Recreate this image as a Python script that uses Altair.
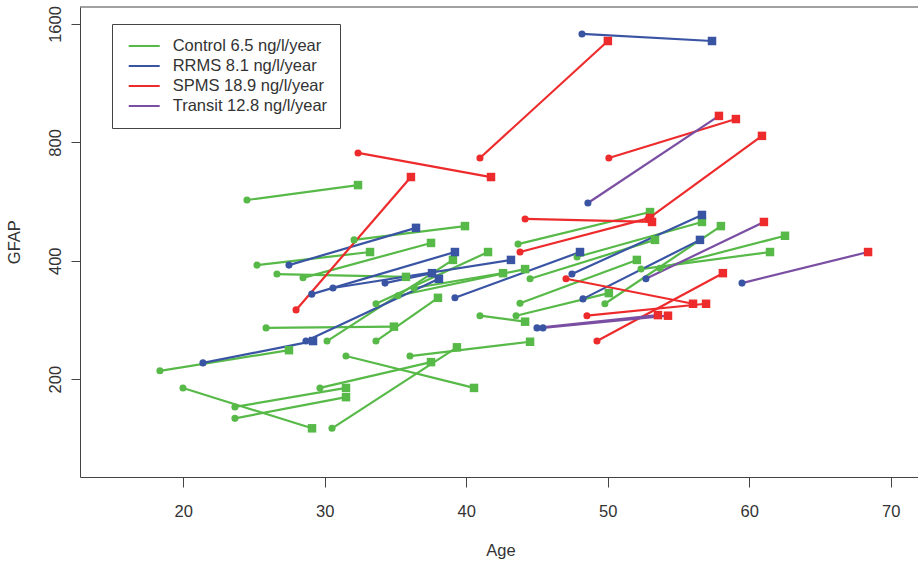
import altair as alt
import pandas as pd

# ---- data ----
groups = (["Control"] * 28) + (["RRMS"] * 10) + (["SPMS"] * 10) + (["Transit"] * 5)

age_start = [
    24.50, 25.21, 26.62, 28.46, 32.07, 25.85, 18.35, 19.98, 23.65, 23.65,
    29.66, 30.51, 36.02, 31.50, 30.16, 33.62, 33.62, 36.31, 40.97, 43.52,
    43.66, 44.51, 47.83, 49.80, 52.35, 35.17, 43.80, 53.69,
    48.18, 27.47, 29.08, 30.58, 34.26, 28.67, 21.39, 39.20, 47.47, 48.25,
    27.97, 32.35, 40.97, 50.08, 52.84, 44.16, 43.80, 47.05, 48.53, 49.24,
    48.60, 52.70, 59.49, 45.00, 45.42,
]
gfap_start = [
    571, 390, 370, 362, 452, 270, 210, 190, 170, 159,
    190, 150, 229, 229, 250, 311, 250, 341, 290, 290,
    441, 360, 409, 311, 381, 326, 312, 383,
    1509, 390, 329, 341, 351, 250, 220, 322, 370, 320,
    300, 752, 730, 730, 511, 511, 421, 360, 290, 250,
    561, 360, 351, 270, 270,
]
age_end = [
    32.35, 33.20, 35.74, 37.51, 39.91, 34.89, 27.47, 29.10, 31.50, 31.50,
    37.51, 39.34, 44.51, 40.55, 39.06, 41.54, 38.00, 42.60, 44.16, 50.08,
    52.99, 53.34, 56.66, 58.00, 61.47, 44.16, 52.06, 62.53,
    57.37, 36.45, 39.20, 43.16, 37.58, 38.07, 29.17, 48.04, 56.66, 56.52,
    36.09, 41.75, 50.01, 59.06, 60.90, 53.13, 52.99, 56.03, 56.95, 58.14,
    57.86, 61.04, 68.40, 53.55, 54.26,
]
gfap_end = [
    623, 421, 364, 444, 490, 272, 237, 150, 190, 180,
    221, 241, 249, 190, 402, 421, 322, 372, 280, 331,
    532, 452, 502, 490, 421, 381, 402, 463,
    1448, 485, 421, 402, 372, 360, 250, 421, 523, 452,
    653, 653, 1448, 917, 831, 502, 514, 311, 311, 372,
    934, 502, 421, 291, 290,
]

group_names = ["Control", "RRMS", "SPMS", "Transit"]
slopes = ["6.5", "8.1", "18.9", "12.8"]
colors = ["#57B947", "#3A54A4", "#EE2B2C", "#7A4FA3"]
legend_labels = [f"{g} {s} ng/l/year" for g, s in zip(group_names, slopes)]
label_of = dict(zip(group_names, legend_labels))

# Transit patients: first visit shown as RRMS, second visit as SPMS
start_group = {"Control": "Control", "RRMS": "RRMS", "SPMS": "SPMS", "Transit": "RRMS"}
end_group = {"Control": "Control", "RRMS": "RRMS", "SPMS": "SPMS", "Transit": "SPMS"}

rows = []
for i, g in enumerate(groups):
    rows.append(dict(id=i, grp=label_of[g], age=age_start[i], gfap=gfap_start[i],
                     stage=0, pgrp=label_of[start_group[g]]))
    rows.append(dict(id=i, grp=label_of[g], age=age_end[i], gfap=gfap_end[i],
                     stage=1, pgrp=label_of[end_group[g]]))
df = pd.DataFrame(rows)

W, H = 838, 470
FONT = "Liberation Sans"
TXT = "#333333"
AX = "#444444"

xscale = alt.Scale(domain=[12.7, 71.93], nice=False, zero=False)
yscale = alt.Scale(type="log", domain=[112.8, 1767], nice=False, zero=False)
cscale = alt.Scale(domain=legend_labels, range=colors)

xaxis = alt.Axis(
    values=[20, 30, 40, 50, 60, 70], grid=False, tickSize=10, tickColor=AX,
    domainColor=AX, labelFont=FONT, labelFontSize=16.5, labelColor=TXT,
    labelBaseline="alphabetic", labelPadding=29, title="Age",
    titleFont=FONT, titleFontSize=16.5, titleFontWeight="normal", titleColor=TXT,
    titleBaseline="alphabetic", titleAlign="center", titleX=420.5, titleY=78.5,
)
yaxis = alt.Axis(
    values=[200, 400, 800, 1600], grid=False, tickSize=9, tickColor=AX,
    domainColor=AX, labelFont=FONT, labelFontSize=16.5, labelColor=TXT,
    labelAngle=270, labelAlign="center", labelBaseline="alphabetic",
    labelPadding=10.5, format="d", title="GFAP",
    titleFont=FONT, titleFontSize=16.5, titleFontWeight="normal", titleColor=TXT,
    titleAngle=270, titleBaseline="alphabetic", titleAlign="center",
    titleX=-61, titleY=234.7,
)

legend = alt.Legend(
    title=None, orient="none", legendX=32, legendY=17,
    symbolType="stroke", symbolSize=961, symbolStrokeWidth=2,
    labelFont=FONT, labelFontSize=16.5, labelColor=TXT, labelLimit=0,
    padding=12, strokeColor=AX, fillColor="white",
    clipHeight=20, rowPadding=0, labelOffset=12, symbolOffset=3.7,
)

base = alt.Chart(df)

lines = base.mark_line(strokeWidth=2.2).encode(
    x=alt.X("age:Q", scale=xscale, axis=xaxis),
    y=alt.Y("gfap:Q", scale=yscale, axis=yaxis),
    color=alt.Color("grp:N", scale=cscale, legend=legend),
    detail="id:N",
    order="stage:Q",
)

circles = base.transform_filter(alt.datum.stage == 0).mark_point(
    shape="circle", filled=True, size=50, opacity=1
).encode(
    x=alt.X("age:Q", scale=xscale),
    y=alt.Y("gfap:Q", scale=yscale),
    color=alt.Color("pgrp:N", scale=cscale, legend=None),
)

squares = base.transform_filter(alt.datum.stage == 1).mark_point(
    shape="square", filled=True, size=72, opacity=1
).encode(
    x=alt.X("age:Q", scale=xscale),
    y=alt.Y("gfap:Q", scale=yscale),
    color=alt.Color("pgrp:N", scale=cscale, legend=None),
)

topline = alt.Chart(pd.DataFrame({"k": [0]})).mark_rule(color=AX, strokeWidth=1).encode(
    x=alt.value(0), x2=alt.value(W), y=alt.value(0)
)

chart = (
    alt.layer(lines, circles, squares, topline)
    .resolve_scale(color="independent")
    .properties(
        width=W, height=H,
        autosize=alt.AutoSizeParams(type="none"),
        padding={"left": 80, "top": 7, "right": 0, "bottom": 86},
        background="white",
    )
    .configure_view(stroke=None)
)

chart.save("out.html", embed_options={"renderer": "svg", "actions": False})
